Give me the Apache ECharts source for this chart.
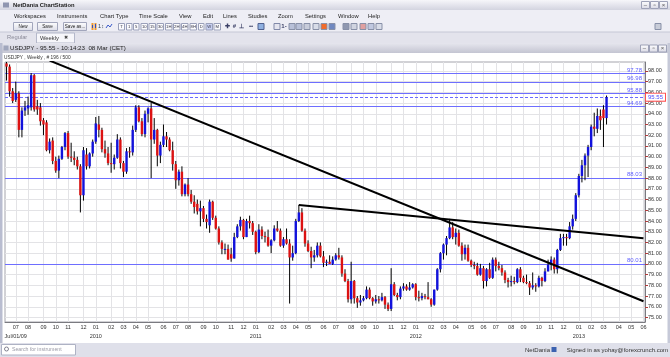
<!DOCTYPE html>
<html>
<head>
<meta charset="utf-8">
<title>USDJPY Weekly</title>
<script src="https://cdn.jsdelivr.net/npm/echarts@6.0.0/dist/echarts.min.js"></script>
<style>
html,body{margin:0;padding:0;background:#e3e3ec;overflow:hidden;}
#chart{width:670px;height:357px;}
</style>
</head>
<body>
<div id="chart"></div>
<script>
// ---------------- DATA ----------------
var weeks2009 = ['06-08','06-15','06-22','06-29','07-06','07-13','07-20','07-27','08-03','08-10','08-17','08-24','08-31','09-07','09-14','09-21','09-28','10-05','10-12','10-19','10-26','11-02','11-09','11-16','11-23','11-30','12-07','12-14','12-21','12-28'];
var weeks2010 = ['01-04','01-11','01-18','01-25','02-01','02-08','02-15','02-22','03-01','03-08','03-15','03-22','03-29','04-05','04-12','04-19','04-26','05-03','05-10','05-17','05-24','05-31','06-07','06-14','06-21','06-28','07-05','07-12','07-19','07-26','08-02','08-09','08-16','08-23','08-30','09-06','09-13','09-20','09-27','10-04','10-11','10-18','10-25','11-01','11-08','11-15','11-22','11-29','12-06','12-13','12-20','12-27'];
var weeks2011 = ['01-03','01-10','01-17','01-24','01-31','02-07','02-14','02-21','02-28','03-07','03-14','03-21','03-28','04-04','04-11','04-18','04-25','05-02','05-09','05-16','05-23','05-30','06-06','06-13','06-20','06-27','07-04','07-11','07-18','07-25','08-01','08-08','08-15','08-22','08-29','09-05','09-12','09-19','09-26','10-03','10-10','10-17','10-24','10-31','11-07','11-14','11-21','11-28','12-05','12-12','12-19','12-26'];
var weeks2012 = ['01-02','01-09','01-16','01-23','01-30','02-06','02-13','02-20','02-27','03-05','03-12','03-19','03-26','04-02','04-09','04-16','04-23','04-30','05-07','05-14','05-21','05-28','06-04','06-11','06-18','06-25','07-02','07-09','07-16','07-23','07-30','08-06','08-13','08-20','08-27','09-03','09-10','09-17','09-24','10-01','10-08','10-15','10-22','10-29','11-05','11-12','11-19','11-26','12-03','12-10','12-17','12-24','12-31'];
var weeks2013 = ['01-07','01-14','01-21','01-28','02-04','02-11','02-18','02-25','03-04'];
var weeksAhead2013 = ['03-11','03-18','03-25','04-01','04-08','04-15','04-22','04-29','05-06','05-13','05-20','05-27'];

// weekly [open, high, low, close]
var ohlc2009 = [
[98.7,98.9,97.1,98.4],[98.4,98.6,95.6,96.1],[96.1,96.4,95.0,95.2],[95.3,97.0,95.1,95.9],
[95.9,96.1,91.8,92.5],[92.5,94.6,91.8,94.3],[94.3,95.2,93.8,94.6],[94.5,95.6,93.9,94.8],
[94.6,97.8,94.3,97.6],[97.6,97.7,94.2,94.4],[94.7,95.3,93.9,94.4],[94.6,95.0,92.9,93.3],
[93.4,93.6,92.0,93.0],[93.2,93.4,90.5,90.6],[90.6,91.7,90.3,91.4],[91.5,91.8,89.3,89.6],
[89.6,90.0,88.5,88.7],[88.7,90.1,88.0,89.8],[89.8,91.0,89.7,90.9],[90.9,92.3,90.6,92.2],
[92.2,92.4,89.8,90.0],[90.0,91.3,89.5,89.9],[89.9,90.5,89.2,89.7],[89.7,90.0,88.8,89.1],
[89.1,89.3,84.8,86.4],[86.4,90.9,85.9,90.6],[90.2,90.8,88.8,89.1],[89.1,90.4,88.9,90.3],
[90.3,91.6,90.0,91.4],[91.4,93.7,91.2,93.1]
];
var ohlc2010 = [
[93.0,93.8,91.8,92.5],[92.5,92.7,90.4,90.7],[90.7,91.5,89.9,90.3],[90.3,90.9,89.2,89.4],
[89.4,91.3,88.5,89.3],[89.3,90.2,88.8,89.9],[89.9,92.1,89.8,91.6],[91.6,91.8,88.9,89.4],
[89.4,89.6,88.1,88.6],[88.6,90.8,88.4,90.5],[90.5,90.9,89.9,90.4],[90.4,92.9,90.1,92.5],
[92.5,94.8,92.3,94.6],[94.6,94.8,93.2,93.3],[93.3,93.6,91.9,92.1],[92.1,94.3,91.8,94.0],
[94.0,94.6,93.2,94.5],[94.5,95.0,88.0,91.6],[91.6,93.6,91.2,92.5],[92.5,92.6,89.1,90.1],
[90.1,91.4,89.4,91.1],[91.1,93.0,90.9,91.9],[91.9,92.3,90.9,91.6],[91.6,91.8,90.5,90.6],
[90.6,91.4,88.7,89.3],[89.3,89.6,87.0,87.8],[87.8,88.8,87.3,88.6],[88.6,89.1,86.3,86.5],
[86.5,87.5,86.3,87.4],[87.4,88.0,86.3,86.5],[86.5,86.9,85.6,85.8],[85.8,86.4,84.7,85.3],
[85.6,86.0,84.6,84.9],[84.9,85.9,83.5,85.2],[85.2,85.4,83.9,84.2],[84.2,84.6,83.3,83.9],
[83.6,86.0,82.9,85.8],[85.8,85.9,84.1,84.3],[84.3,84.5,83.2,83.3],[83.3,83.5,81.8,82.0],
[82.0,82.2,80.9,81.4],[81.3,81.9,80.9,81.4],[81.4,81.8,80.4,80.4],[80.9,81.5,80.2,80.5],
[80.5,82.9,80.5,82.5],[82.5,83.7,82.4,83.5],[83.5,84.4,83.1,84.1],[84.1,84.2,82.3,82.5],
[82.5,84.2,82.5,84.0],[84.0,84.5,83.3,83.8],[83.8,84.0,82.7,83.0],[83.0,83.1,80.9,81.1]
];
var ohlc2011 = [
[81.1,83.7,81.0,83.2],[83.2,83.5,82.3,82.6],[82.6,83.0,82.0,82.5],[82.5,83.2,81.6,81.7],
[81.7,82.3,81.0,82.2],[82.2,83.6,82.1,83.3],[83.3,84.0,83.0,83.1],[83.1,83.3,81.6,81.7],
[81.7,82.5,81.5,82.3],[82.3,83.3,81.8,81.9],[81.9,82.3,76.3,80.6],[80.6,81.7,80.3,81.0],
[81.0,84.2,80.9,84.0],[84.0,85.5,83.9,84.8],[84.8,85.2,83.0,83.1],[83.1,83.3,81.6,81.9],
[81.9,82.2,81.1,81.2],[81.2,81.6,79.6,80.6],[80.6,81.3,80.2,80.8],[80.8,82.0,80.6,81.7],
[81.7,82.0,80.6,80.7],[80.7,81.2,79.7,80.1],[80.1,80.4,79.8,80.2],[80.2,80.8,80.0,80.0],
[80.0,80.7,79.9,80.4],[80.4,81.0,80.3,80.8],[80.8,81.5,80.4,80.6],[80.6,80.8,78.8,79.1],
[79.1,79.5,78.3,78.4],[78.4,78.6,76.4,76.7],[76.7,80.2,76.3,78.4],[78.4,78.5,76.3,76.8],
[76.8,77.0,75.9,76.4],[76.4,77.1,76.1,76.6],[76.6,77.0,76.5,76.8],[76.8,77.9,76.7,77.6],
[77.6,77.8,76.7,76.8],[76.8,76.9,76.1,76.5],[76.5,77.1,76.3,76.7],[76.7,77.0,76.3,76.6],
[76.6,77.3,76.5,76.9],[76.9,77.0,75.8,76.2],[76.2,76.4,75.6,75.8],[75.8,79.6,75.6,78.1],
[78.1,78.3,77.0,77.1],[77.1,77.3,76.6,76.9],[76.9,77.9,76.7,77.7],[77.7,78.2,77.5,77.9],
[77.9,78.1,77.5,77.6],[77.6,78.3,77.5,77.8],[77.8,78.2,77.7,78.1],[78.1,78.2,76.6,76.9]
];
var ohlc2012 = [
[76.9,77.5,76.5,76.8],[76.8,77.3,76.6,77.0],[77.0,77.2,76.7,76.9],[76.9,78.3,76.7,76.7],
[76.7,76.8,76.0,76.2],[76.2,77.6,76.1,77.6],[77.6,79.6,77.5,79.5],[79.5,81.1,79.2,81.0],
[81.0,81.9,80.4,81.8],[81.8,82.6,80.8,82.4],[82.4,84.2,82.3,83.4],[83.4,83.9,82.3,82.5],
[82.5,83.3,81.8,82.9],[82.9,83.2,81.6,81.7],[81.7,82.0,80.3,80.9],[80.9,81.8,80.4,81.5],
[81.5,81.8,80.2,80.3],[80.3,80.4,79.7,79.9],[79.9,80.2,79.5,79.8],[79.8,80.1,78.9,79.0],
[79.0,80.0,78.9,79.6],[79.6,79.8,77.7,78.4],[78.4,79.6,77.9,79.5],[79.5,80.1,78.6,78.7],
[78.7,80.6,78.6,80.4],[80.4,80.6,79.3,79.8],[79.8,80.2,79.4,79.6],[79.6,79.9,78.9,79.2],
[79.2,79.4,78.2,78.5],[78.5,78.7,77.8,78.3],[78.3,78.9,77.9,78.4],[78.4,78.8,78.1,78.3],
[78.3,79.6,78.2,79.5],[79.5,79.7,78.3,78.7],[78.7,78.9,78.2,78.3],[78.3,79.0,78.1,78.2],
[78.2,78.4,77.1,77.8],[77.8,79.2,77.6,78.0],[78.0,78.2,77.4,77.9],[77.9,78.9,77.8,78.7],
[78.7,78.8,77.9,78.4],[78.4,79.6,78.3,79.3],[79.3,80.4,79.3,79.9],[79.9,80.7,79.4,80.4],
[80.4,80.6,79.1,79.5],[79.5,81.4,79.1,81.3],[81.3,82.8,81.2,82.4],[82.4,82.8,81.7,82.5],
[82.5,82.8,81.7,82.4],[82.4,83.9,82.3,83.5],[83.5,84.6,83.2,84.2],[84.2,86.6,84.0,86.4],
[86.4,88.4,86.2,88.2]
];
var ohlc2013 = [
[88.2,89.7,87.6,89.2],[89.2,90.3,87.8,90.1],[90.1,91.1,88.1,90.9],[90.9,93.0,90.6,92.8],
[92.8,94.1,91.9,92.6],[92.6,94.5,92.2,93.8],[93.8,94.4,92.5,93.4],[94.4,94.8,90.9,93.6],
[93.6,95.7,93.0,95.55]
];

var yTicks = [75,76,77,78,79,80,81,82,83,84,85,86,87,88,89,90,91,92,93,94,95,96,97,98];
var priceLevels = [97.78, 96.98, 95.88, 94.69, 88.03, 80.01];
var lastPrice = 95.55;
// trend lines: [week index, price]
var trendLineA = [[14, 98.96], [207, 76.52]];
var trendLineB = [[95, 85.5], [207, 82.39]];
var monthNames = ['Jan','Feb','Mar','Apr','May','Jun','Jul','Aug','Sep','Oct','Nov','Dec'];

// ---------------- BUILD ----------------
var categories = [];
function addWeeks(year, arr){ arr.forEach(function(md){ categories.push(year + '-' + md); }); }
addWeeks('2009', weeks2009); addWeeks('2010', weeks2010); addWeeks('2011', weeks2011);
addWeeks('2012', weeks2012); addWeeks('2013', weeks2013); addWeeks('2013', weeksAhead2013);

var ohlc = [].concat(ohlc2009, ohlc2010, ohlc2011, ohlc2012, ohlc2013);
var candleData = ohlc.map(function(r, i){ return [i, r[0], r[3], r[2], r[1]]; });

// month index if the week contains the 1st of a month, else null
function weekMonthStart(s){
  var d = new Date(s + 'T00:00:00Z');
  if (d.getUTCDate() === 1) return {m: d.getUTCMonth(), y: d.getUTCFullYear()};
  var e = new Date(d.getTime() + 6 * 86400000);
  if (e.getUTCMonth() !== d.getUTCMonth()) return {m: e.getUTCMonth(), y: e.getUTCFullYear()};
  return null;
}
var monthStart = categories.map(weekMonthStart);
var firstTick = -1;
for (var k = 0; k < monthStart.length; k++) { if (monthStart[k]) { firstTick = k; break; } }
function pad(n){ return (n < 10 ? '0' : '') + n; }

var FF = '"Liberation Sans", Arial, sans-serif';
var BLUE = '#1212dc', RED = '#dc1212';

// grid lines
var gridLines = yTicks.map(function(v){ return {yAxis: v}; });
monthStart.forEach(function(ms, i){ if (ms) gridLines.push({xAxis: categories[i]}); });

var levelLines = priceLevels.map(function(v){ return {yAxis: v, label: {formatter: v.toFixed(2)}}; });
levelLines.push({
  yAxis: lastPrice,
  lineStyle: {type: [3, 2], color: '#6a6aff', width: 1},
  label: {position: 'end', formatter: lastPrice.toFixed(2), distance: 1, color: '#4d4dff',
          backgroundColor: '#fff', borderColor: '#ff5050', borderWidth: 1, padding: [1, 2, 0, 2], fontSize: 6}
});

// ---------------- CHROME ----------------
var G = [];
function grad(a, b){ return new echarts.graphic.LinearGradient(0, 0, 0, 1, [{offset: 0, color: a}, {offset: 1, color: b}]); }
function R(x, y, w, h, fill, stroke){
  G.push({type: 'rect', silent: true, z: -1, shape: {x: x, y: y, width: w, height: h},
          style: {fill: fill, stroke: stroke || null, lineWidth: stroke ? 1 : 0}});
}
function T(x, y, text, opt){
  var st = {text: text, fill: '#222', font: '6px ' + FF, textAlign: 'left', textVerticalAlign: 'middle'};
  if (opt) for (var p in opt) st[p] = opt[p];
  G.push({type: 'text', silent: true, z: 5, x: x, y: y, style: st});
}
// title bar
R(0, 0, 670, 10, grad('#f6f6fa', '#d3d4e0'));
R(3, 2.5, 6, 5, '#9096b0');
T(13, 5.5, 'NetDania ChartStation', {font: 'bold 5.8px ' + FF});
[641, 650, 659].forEach(function(x, i){ R(x + 0.5, 1.5, 8, 7, grad('#ffffff', '#d8d8e4'), '#9ea2b8'); T(x + 4.5, 5, ['–', '▫', '×'][i], {textAlign: 'center', font: '6px ' + FF, fill: '#555'}); });
// menu
R(0, 10, 670, 11, '#eeeef5');
[['Workspaces', 14], ['Instruments', 57], ['Chart Type', 100], ['Time Scale', 139], ['View', 179], ['Edit', 203],
 ['Lines', 223], ['Studies', 248], ['Zoom', 278], ['Settings', 305], ['Window', 338], ['Help', 368]].forEach(function(m){ T(m[1], 16, m[0], {font: '5.8px ' + FF}); });
// toolbar
R(0, 21, 670, 11, '#eeeef5');
function btn(x, w, label){ R(x + 0.5, 22.5, w, 8, grad('#ffffff', '#dadbe6'), '#a2a6bc'); T(x + 0.5 + w / 2, 26.7, label, {textAlign: 'center', font: '4.6px ' + FF}); }
btn(13, 19, 'New'); btn(37, 20, 'Save'); btn(63, 23, 'Save as...');
R(91.5, 23, 2, 7, '#f29a2e'); R(94.5, 23, 2, 7, '#f29a2e'); R(92, 25, 1, 3, '#3050c0'); R(95, 24, 1, 4, '#3050c0');
T(101, 26.5, '1↕', {textAlign: 'center', font: '5.5px ' + FF, fill: '#345'});
G.push({type: 'polyline', silent: true, z: 5, shape: {points: [[106, 28], [108, 25], [110, 27], [112, 24]]}, style: {stroke: '#3a5ac8', lineWidth: 1, fill: null}});
[['T', 118, 6], ['1', 126, 5.5], ['5', 133, 5.5], ['10', 140.5, 6.5], ['15', 148.5, 6.5], ['30', 156.5, 6.5], ['1H', 165, 6.5],
 ['2H', 173, 6.5], ['4H', 181, 6.5], ['8H', 189.5, 6.5], ['D', 198, 5.5], ['W', 205.5, 6.5], ['M', 213.5, 6.5]].forEach(function(b){
  R(b[1] + 0.5, 23.5, b[2], 6.5, b[0] === 'W' ? '#c8d0f2' : '#fbfbfd', '#9aa0ba');
  T(b[1] + 0.5 + b[2] / 2, 26.9, b[0], {textAlign: 'center', font: '4.2px ' + FF, fill: '#334'});
});
[['✚', 227], ['#', 234.5], ['⊥', 241.5], ['••', 251], ['1-', 284]].forEach(function(g){ T(g[1], 26.7, g[0], {textAlign: 'center', font: 'bold 6px ' + FF, fill: '#3a3f66'}); });
R(258, 23.5, 6, 6, '#8fb0e0', '#506090'); R(274, 23.5, 6, 6, '#e4e4ee', '#8088a8');
[[289, '#b8c0d8'], [296, '#b8c0d8'], [304, '#c8ccda'], [313, '#d8dce8'], [321, '#f06a2a'], [329, '#7088c0'],
 [343, '#9098b0'], [351, '#d0d4e0'], [360, '#e0a0a0'], [368, '#c0c8e0'], [376, '#d8dce8'], [655, '#c8ccd8']].forEach(function(ic){
  R(ic[0], 23.5, 6, 6, ic[1], '#8890a8');
});
// tabs
R(0, 32, 670, 11, '#e3e3ec');
R(0, 31.5, 670, 1, '#c6c8d6');
T(7, 37.5, 'Regular', {fill: '#8a8a98', font: '5.8px ' + FF});
R(36.5, 33, 38, 10, '#f6f6fa', '#b4b8ca');
T(40, 38, 'Weekly', {font: '5.8px ' + FF, fill: '#333'});
T(65.5, 38, '✖', {font: '5px ' + FF, fill: '#444', textAlign: 'center'});
// chart window header
R(2, 43, 666, 10, grad('#e6e6ee', '#c4c5d2'));
R(3.5, 45.5, 5, 5, '#a0a6bc');
T(10, 48.3, 'USDJPY - 95.55 - 10:14:23  08 Mar (CET)', {font: '6.2px ' + FF, fill: '#222'});
[641, 650, 659].forEach(function(x, i){ R(x - 0.5, 45, 8, 7, grad('#ffffff', '#d8d8e4'), '#9ea2b8'); T(x + 3.5, 48.5, ['–', '▫', '×'][i], {textAlign: 'center', font: '6px ' + FF, fill: '#555'}); });
// white chart panel
R(2, 53, 666, 290, '#ffffff');
R(0, 43, 2.5, 300, '#b9bdd0');
R(667.5, 43, 2.5, 300, '#c6c9d8');
T(4, 57.5, 'USDJPY , Weekly , # 196 / 500', {font: '4.8px ' + FF, fill: '#333'});
// bottom status bar
R(0, 343, 670, 14, '#dfe0ea');
R(1.5, 344.5, 74, 10.5, '#ffffff', '#aeb2c4');
G.push({type: 'circle', silent: true, z: 5, shape: {cx: 6.5, cy: 349, r: 2}, style: {stroke: '#667', fill: null, lineWidth: 0.8}});
T(12, 350, 'Search for instrument', {fill: '#9a9aa6', font: '5.2px ' + FF});
T(550, 350, 'NetDania', {textAlign: 'right', font: '6px ' + FF, fill: '#333'});
R(551.5, 347, 5, 5, '#3c62b0');
T(668, 350, 'Signed in as yohay@forexcrunch.com', {textAlign: 'right', font: '6px ' + FF, fill: '#333'});

// ---------------- CHART ----------------
function renderCandle(params, api){
  var i = api.value(0);
  var o = api.value(1), c = api.value(2), l = api.value(3), h = api.value(4);
  var pO = api.coord([i, o]), pC = api.coord([i, c]), pL = api.coord([i, l]), pH = api.coord([i, h]);
  var x = pO[0], w = 2.4;
  var top = Math.min(pO[1], pC[1]), bot = Math.max(pO[1], pC[1]);
  return {type: 'group', children: [
    {type: 'line', shape: {x1: x, y1: pH[1], x2: x, y2: pL[1]}, style: {stroke: '#000', lineWidth: 1}},
    {type: 'rect', shape: {x: x - w / 2, y: top, width: w, height: Math.max(bot - top, 1)}, style: {fill: c >= o ? BLUE : RED}}
  ]};
}

var option = {
  animation: false,
  backgroundColor: '#e3e3ec',
  textStyle: {fontFamily: FF},
  graphic: {elements: G},
  grid: {left: 5, top: 62, width: 640, height: 260, show: true, backgroundColor: '#ffffff', borderColor: '#a4a4ac', borderWidth: 1},
  xAxis: [{
    type: 'category', data: categories, boundaryGap: true,
    axisLine: {show: true, onZero: false, lineStyle: {color: '#7a7a80'}},
    axisTick: {show: true, alignWithLabel: true, inside: true, length: 3,
               interval: function(i){ return !!monthStart[i]; }, lineStyle: {color: '#d03030'}},
    axisLabel: {interval: function(i){ return !!monthStart[i]; },
                formatter: function(v, i){ return monthStart[i] ? pad(monthStart[i].m + 1) : ''; },
                fontSize: 5.5, color: '#333', margin: 2.3},
    splitLine: {show: false}
  }, {
    type: 'category', data: categories, boundaryGap: true, position: 'bottom', offset: 9,
    axisLine: {show: false}, axisTick: {show: false}, splitLine: {show: false},
    axisLabel: {interval: function(i){ return i === firstTick || (monthStart[i] && monthStart[i].m === 0); },
                formatter: function(v, i){
                  var ms = monthStart[i]; if (!ms) return '';
                  if (i === firstTick) return monthNames[ms.m] + '/01/' + String(ms.y).slice(2);
                  return String(ms.y);
                },
                fontSize: 5.5, color: '#333', margin: 2.3}
  }],
  yAxis: {
    type: 'value', position: 'right', min: 74.58, max: 98.83,
    axisLine: {show: true, lineStyle: {color: '#7a7a80'}},
    axisTick: {show: true, length: 3, customValues: yTicks, lineStyle: {color: '#b03a3a'}},
    axisLabel: {customValues: yTicks, formatter: function(v){ return Number(v).toFixed(2); }, fontSize: 5.5, color: '#333', margin: 3},
    splitLine: {show: false}
  },
  series: [{
    type: 'line', data: [], silent: true, z: 1,
    markLine: {z: 1, silent: true, symbol: ['none', 'none'], animation: false, label: {show: false},
               lineStyle: {color: '#e3e3e6', width: 1, type: 'solid'}, data: gridLines}
  }, {
    type: 'line', data: [], silent: true, z: 2,
    markLine: {z: 2, silent: true, symbol: ['none', 'none'], animation: false,
               label: {show: true, position: 'insideEndTop', distance: [3, 0], color: '#5f5fff', fontSize: 6},
               lineStyle: {color: '#6e6eff', width: 1, type: 'solid'}, data: levelLines}
  }, {
    type: 'custom', name: 'USDJPY', renderItem: renderCandle, data: candleData, clip: true, z: 3,
    encode: {x: 0, y: [1, 2, 3, 4]}
  }, {
    type: 'line', data: trendLineA, symbol: 'none', showSymbol: false, clip: true, z: 4, silent: true,
    lineStyle: {color: '#000', width: 2}
  }, {
    type: 'line', data: trendLineB, symbol: 'none', showSymbol: false, clip: true, z: 4, silent: true,
    lineStyle: {color: '#000', width: 2}
  }]
};

var chart = echarts.init(document.getElementById('chart'), null, {renderer: 'canvas'});
chart.setOption(option);
</script>
</body>
</html>
